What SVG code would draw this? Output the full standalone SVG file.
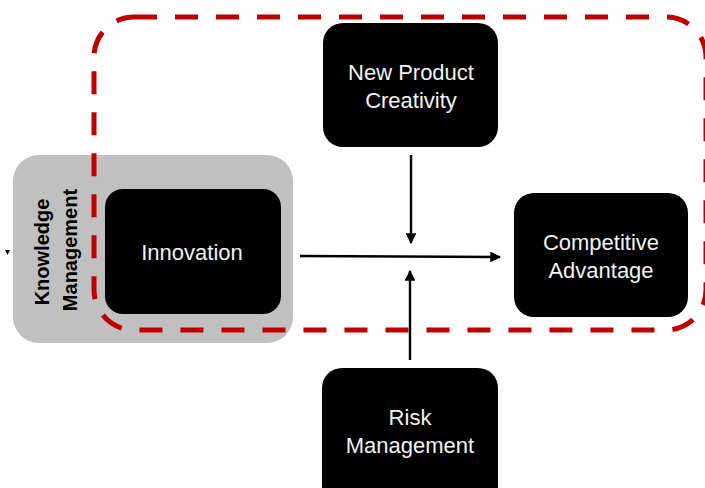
<svg xmlns="http://www.w3.org/2000/svg" width="705" height="488" viewBox="0 0 705 488">
  <defs>
    <marker id="arrow" viewBox="0 0 10 10" refX="9" refY="5" markerWidth="4.5" markerHeight="4.5" markerUnits="strokeWidth" orient="auto">
      <path d="M0,0 L10,5 L0,10 z" fill="#000"/>
    </marker>
    <style>
      .box { fill: #000; }
      .label { fill: #f2f2f2; font-family: "Liberation Sans", Arial, sans-serif; font-size: 22px; text-anchor: middle; }
      .km { fill: #000; font-family: "Liberation Sans", Arial, sans-serif; font-size: 20px; font-weight: bold; text-anchor: middle; }
      .conn { stroke: #000; stroke-width: 2.4; fill: none; marker-end: url(#arrow); }
      .boundary { fill: none; stroke: #c00000; stroke-width: 5; stroke-dasharray: 23 18; }
    </style>
  </defs>

  <rect width="705" height="488" fill="#fff"/>

  <!-- Knowledge Management container -->
  <g id="knowledge-management">
    <rect x="13" y="155" width="280" height="188" rx="26" fill="#c0c0c0"/>
    <text class="km" transform="translate(49,252) rotate(-90)">Knowledge</text>
    <text class="km" transform="translate(77,250) rotate(-90)">Management</text>
  </g>

  <!-- small tick at left edge -->
  <path d="M5,250 L10,250 L7.5,255 z" fill="#000"/>

  <g id="innovation">
    <rect class="box" x="105" y="189" width="176" height="125" rx="18"/>
    <text class="label" x="192" y="260">Innovation</text>
  </g>

  <g id="new-product-creativity">
    <rect class="box" x="323" y="23" width="175" height="124" rx="20"/>
    <text class="label" x="411" y="80">New Product</text>
    <text class="label" x="411" y="108">Creativity</text>
  </g>

  <g id="competitive-advantage">
    <rect class="box" x="514" y="193" width="174" height="124" rx="20"/>
    <text class="label" x="601" y="250">Competitive</text>
    <text class="label" x="601" y="278">Advantage</text>
  </g>

  <g id="risk-management">
    <rect class="box" x="322" y="368" width="176" height="140" rx="20"/>
    <text class="label" x="410" y="425">Risk</text>
    <text class="label" x="410" y="453">Management</text>
  </g>

  <!-- dashed boundary -->
  <rect class="boundary" x="94" y="17" width="612" height="313" rx="40"/>

  <g id="connectors">
    <line class="conn" x1="300" y1="256" x2="500" y2="257"/>
    <line class="conn" x1="411" y1="155" x2="411" y2="243"/>
    <line class="conn" x1="410" y1="360" x2="410" y2="271"/>
  </g>
</svg>
